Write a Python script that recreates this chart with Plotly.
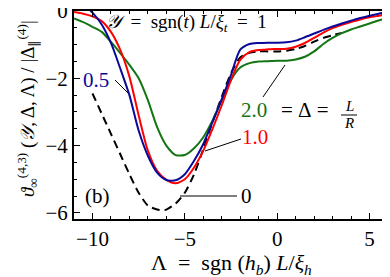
import plotly.graph_objects as go

# ---------------- data ----------------
lam = [-11, -10.5, -10, -9.5, -9, -8.5, -8, -7.5, -7, -6.5, -6, -5.5, -5, -4.5,
       -4, -3.5, -3, -2.5, -2, -1.5, -1, -0.5, 0, 0.5, 1, 1.5, 2, 2.5, 3, 3.5,
       4, 4.5, 5, 5.5, 6]

theta_05 = [0.5, 0.22, -0.05, -0.4, -0.95, -1.7, -2.5, -3.55, -4.3, -4.8, -5.02,
            -5.03, -4.85, -4.45, -3.95, -3.3, -2.62, -1.9, -1.15, -0.98, -0.95,
            -0.94, -0.94, -0.93, -0.88, -0.78, -0.67, -0.56, -0.46, -0.37, -0.29,
            -0.21, -0.14, -0.08, -0.03]

theta_10 = [-0.03, -0.08, -0.16, -0.3, -0.62, -1.15, -1.95, -3.1, -4.15, -4.75, -5.02,
            -5.12, -5.0, -4.65, -4.15, -3.5, -2.8, -2.05, -1.45, -1.22, -1.16,
            -1.14, -1.13, -1.12, -1.06, -0.95, -0.8, -0.64, -0.51, -0.41, -0.33,
            -0.25, -0.19, -0.14, -0.09]

theta_20 = [-0.22, -0.33, -0.47, -0.62, -0.92, -1.25, -1.6, -2.0, -2.65, -3.45,
            -4.0, -4.28, -4.28, -4.08, -3.75, -3.25, -2.65, -2.05, -1.68, -1.55,
            -1.5, -1.49, -1.48, -1.48, -1.44, -1.36, -1.2, -0.98, -0.8, -0.66,
            -0.55, -0.46, -0.37, -0.28, -0.2]

lam_0 = [-10, -9.5, -9, -8.5, -8, -7.5, -7, -6.5, -6.2, -6, -5.5, -5, -4.5, -4,
         -3.5, -3, -2.5, -2, -1.5, -1, -0.5, 0, 0.5, 1, 1.5, 2, 2.5, 3, 3.5]
theta_0 = [-2.45, -3.05, -3.65, -4.25, -4.85, -5.4, -5.78, -5.9, -5.92, -5.9, -5.72,
           -5.4, -4.85, -4.1, -3.3, -2.55, -1.85, -1.38, -1.24, -1.2, -1.2, -1.2,
           -1.18, -1.13, -1.04, -0.91, -0.8, -0.72, -0.65]

x_ticks = [-10, -5, 0, 5]
y_ticks = [0, -2, -4, -6]

BLUE = "#0a0a9a"
RED = "#ff0000"
GREEN = "#137513"
FONT = "Liberation Serif"

# ---------------- geometry ----------------
# page body has an 8 px margin, so the figure is drawn 8 px smaller
OFF = 8
W, H = 390 - OFF, 277 - OFF
PL, PR, PT, PB = 74, 388, 11, 219          # plot box in window pixels
ML, MR, MT, MB = PL - OFF, 390 - PR, PT - OFF, 277 - PB
XR = [-11, 6]
YR = [-6.18, 0]


def px2x(px):
    return XR[0] + (px - PL) / (PR - PL) * (XR[1] - XR[0])


def py2y(py):
    return YR[1] - (py - PT) / (PB - PT) * (YR[1] - YR[0])


def px2paper(px):
    return (px - PL) / (PR - PL)


def py2paper(py):
    return (PB - py) / (PB - PT)


fig = go.Figure()
fig.add_trace(go.Scatter(x=lam_0, y=theta_0, mode="lines",
                         line=dict(color="black", width=2, dash="8px,5px",
                                   shape="spline", smoothing=0.7)))
fig.add_trace(go.Scatter(x=lam, y=theta_20, mode="lines",
                         line=dict(color=GREEN, width=2, shape="spline", smoothing=0.7)))
fig.add_trace(go.Scatter(x=lam, y=theta_10, mode="lines",
                         line=dict(color=RED, width=2, shape="spline", smoothing=0.7)))
fig.add_trace(go.Scatter(x=lam, y=theta_05, mode="lines",
                         line=dict(color=BLUE, width=2, shape="spline", smoothing=0.7)))

axis_common = dict(showline=True, linewidth=2, linecolor="black", mirror="ticks",
                   ticks="inside", ticklen=6, tickwidth=1.3, tickcolor="black",
                   showgrid=False, zeroline=False, automargin=False,
                   ticklabeloverflow="allow",
                   tickfont=dict(family=FONT, size=21, color="black"))

fig.update_xaxes(range=XR, tickvals=x_ticks,
                 minor=dict(dtick=1, ticks="inside", ticklen=3, tickwidth=1.1,
                            tickcolor="black"),
                 **axis_common)
fig.update_yaxes(range=YR, tickvals=y_ticks,
                 minor=dict(dtick=0.5, ticks="inside", ticklen=3, tickwidth=1.1,
                            tickcolor="black"),
                 **axis_common)

ann = []


def text(px, py, s, size=21, color="black", anchor="center", **kw):
    ann.append(dict(x=px2x(px), y=py2y(py), xref="x", yref="y", text=s,
                    showarrow=False, xanchor=anchor, yanchor="middle",
                    font=dict(family=FONT, size=size, color=color), **kw))


def line(p0, p1, color="black", width=1):
    fig.add_shape(type="line", xref="x", yref="y",
                  x0=px2x(p0[0]), y0=py2y(p0[1]), x1=px2x(p1[0]), y1=py2y(p1[1]),
                  line=dict(color=color, width=width))


text(104, 23, "<i>𝒴</i>&nbsp; = &nbsp;sgn(<i>t</i>) <i>L</i>/<i>ξ<sub>t</sub></i>&nbsp; = &nbsp;1",
     size=19, anchor="left")
text(96, 80, "0.5", color=BLUE)
text(254, 110, "2.0", color=GREEN)
text(305, 110, "=&nbsp;Δ&nbsp;=")
text(349, 106, "<i>L</i>", size=15)
text(349, 123, "<i>R</i>", size=15)
line((341, 115), (357, 115), width=1)
text(255, 137, "1.0", color=RED)
text(246, 196, "0")
text(97, 196, "(b)")

line((115, 80), (128, 93))
line((285, 65), (263, 97))
line((241, 139), (205, 151))
line((180, 196), (237, 196))

# axis titles
ann.append(dict(x=px2paper(231), y=py2paper(264), xref="paper", yref="paper",
                showarrow=False, xanchor="center", yanchor="middle",
                text="Λ&nbsp; = &nbsp;sgn&nbsp;(<i>h<sub>b</sub></i>)&nbsp;<i>L</i>/<i>ξ<sub>h</sub></i>",
                font=dict(family=FONT, size=22, color="black")))
ann.append(dict(x=px2paper(27), y=py2paper(109), xref="paper", yref="paper",
                showarrow=False, textangle=-90, xanchor="center", yanchor="middle",
                text="<i>ϑ</i><sub>∞</sub><sup>(4,3)</sup> (<i>𝒴</i>, Δ, Λ) / |Δ<sub>∥</sub><sup>(4)</sup>|",
                font=dict(family=FONT, size=19, color="black")))

fig.update_layout(width=W, height=H, margin=dict(l=ML, r=MR, t=MT, b=MB, pad=0),
                  paper_bgcolor="white", plot_bgcolor="white", showlegend=False,
                  annotations=ann)

fig.write_html("out.html")
